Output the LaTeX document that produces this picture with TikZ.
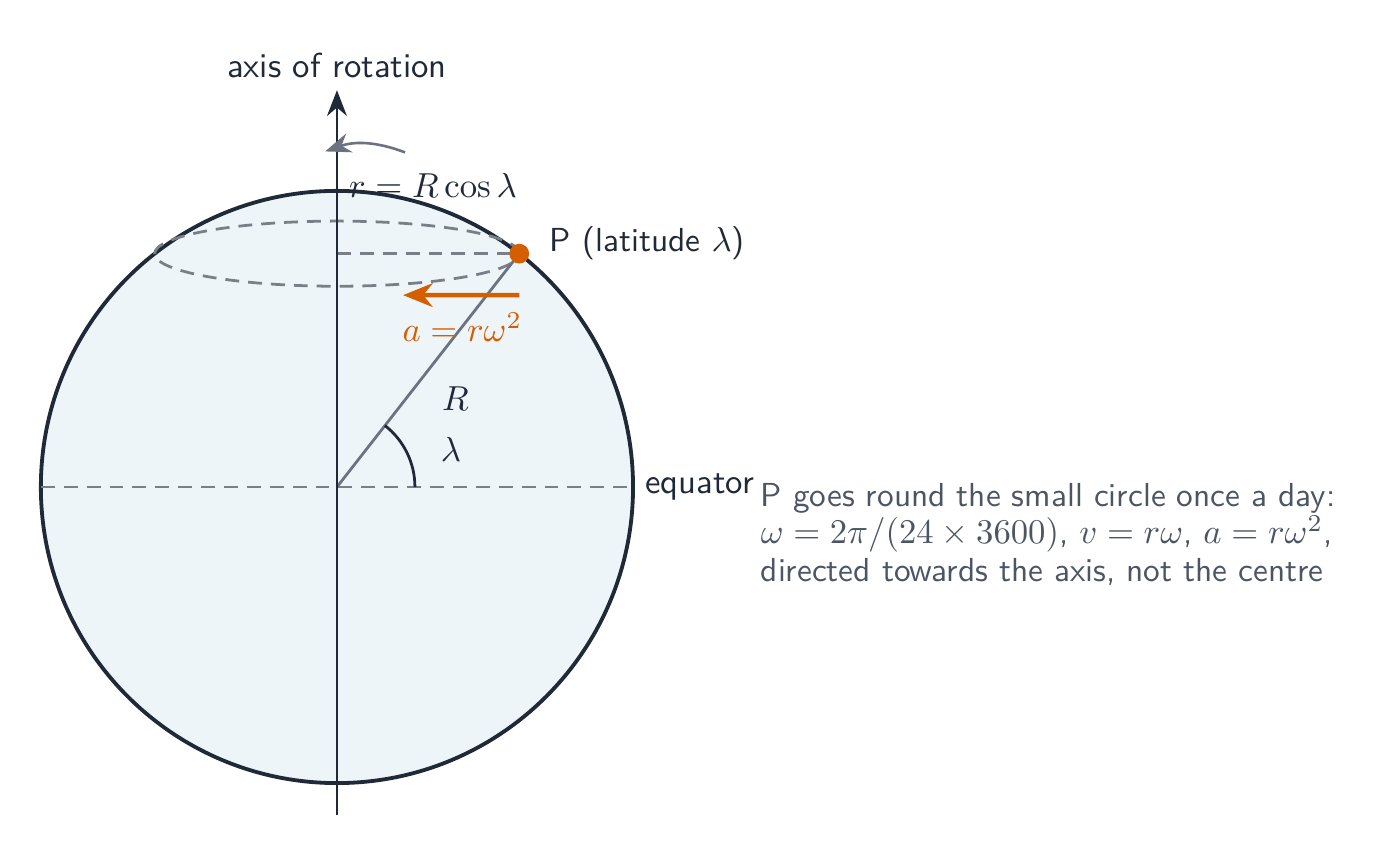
\documentclass[tikz,border=0pt]{standalone}
\usetikzlibrary{arrows.meta,positioning,calc}
\definecolor{ink}{HTML}{1F2937}
\definecolor{mute}{HTML}{6B7280}
\definecolor{dashgray}{HTML}{7A7F87}
\definecolor{notegray}{HTML}{4B5563}
\definecolor{vermil}{HTML}{D55E00}
\definecolor{sea}{HTML}{EDF5F9}

\begin{document}
\begin{tikzpicture}[font=\sffamily]
  %----- styles
  \tikzset{
    outline/.style ={draw=ink,line width=1.1pt},
    guide/.style   ={draw=dashgray,line width=0.8pt,dash pattern=on 4pt off 2.6pt},
    arrow/.style   ={-{Stealth[length=2.6mm,width=2mm]},line width=0.75pt},
    lbl/.style     ={text=ink},
    smalltext/.style={font=\sffamily\fontsize{9.6}{10.9}\selectfont},
    note/.style    ={smalltext,text=notegray,align=left}
  }
  \useasboundingbox (-3.414,-3.759) rectangle (10.74,4.934);

  %----- points
  \coordinate (O)    at (0,0);
  \coordinate (P)    at (52:3);
  \coordinate (Pax)  at (0,{3*sin(52)});
  \coordinate (Eqw)  at (-3,0);
  \coordinate (Eqe)  at (3,0);
  \coordinate (axbot) at (0,-3.32);
  \coordinate (axtop) at (0,4.02);

  %----- sphere
  \draw[outline,fill=sea] (O) circle (3);

  % small circle of latitude and equator
  \draw[guide] (Pax) ellipse ({3*cos(52)} and 0.33);
  \draw[guide] (Pax) -- (P);
  \draw[guide] (Eqw) -- (Eqe);

  % radius to P and latitude angle
  \draw[mute,line width=0.8pt] (O) -- (P);
  \draw[ink,line width=0.8pt] ([xshift=0.79cm]O) arc (0:52:0.79);

  % axis of rotation
  \draw[arrow,ink] (axbot) -- (axtop);
  \node[lbl] (axlbl) [above=0pt of axtop] {axis of rotation};

  % sense of rotation
  \coordinate (rotA) at (0.69,3.39);
  \coordinate (rotB) at (-0.12,3.40);
  \draw[arrow,mute] (rotA) to[bend right=20] (rotB);

  %----- nodes
  \node[lbl,anchor=west] (rlbl) at (0.0,3.06) {$r = R\cos\lambda$};
  \node[circle,fill=vermil,inner sep=0pt,minimum size=0.2cm] (Pdot) at (P) {};
  \node[lbl,smalltext,anchor=west] (Plbl)
    at ([xshift=0.08cm,yshift=0.11cm]Pdot.east) {P (latitude $\lambda$)};
  \node[lbl] (Rlbl) at (1.2,0.9) {$R$};
  \node[lbl] (lamlbl) at (1.155,0.385) {$\lambda$};
  \node[lbl,anchor=west] (eqlbl) at (Eqe) {equator};

  % centripetal acceleration
  \coordinate (accA) at ($(P)+(0,-0.42)$);
  \coordinate (accB) at (0.67,{3*sin(52)-0.42});
  \draw[-{Stealth[length=3mm,width=2.4mm]},vermil,line width=1.3pt] (accA) -- (accB);
  \node[text=vermil] (acclbl) at (1.27,1.62) {$a = r\omega^2$};

  %----- note
  \node[note,anchor=west] (note) at (4.17,-0.48)
    {P goes round the small circle once a day:\\
     $\omega = 2\pi/(24\times3600)$, $v = r\omega$, $a = r\omega^2$,\\
     directed towards the axis, not the centre};
\end{tikzpicture}
\end{document}
